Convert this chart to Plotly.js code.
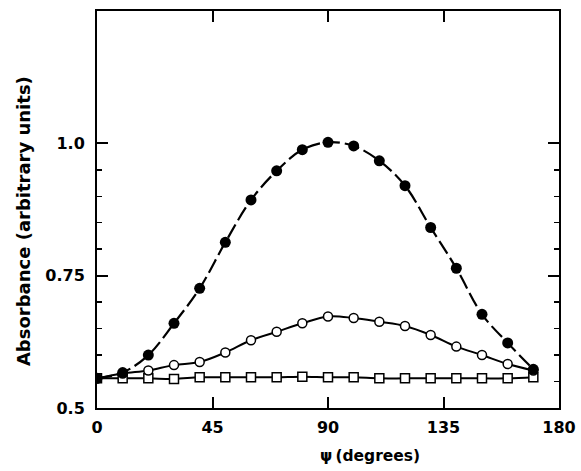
<!DOCTYPE html>
<html>
<head>
<meta charset="utf-8">
<script src="https://cdn.plot.ly/plotly-3.0.1.min.js"></script>
<style>html,body{margin:0;padding:0;background:#fff;}#chart{width:581px;height:471px;}</style>
</head>
<body>
<div id="chart"></div>
<script>
var psi = [0, 10, 20, 30, 40, 50, 60, 70, 80, 90, 100, 110, 120, 130, 140, 150, 160, 170];
var filledCircles = [0.556, 0.567, 0.600, 0.660, 0.726, 0.813, 0.893, 0.948, 0.988, 1.002, 0.995, 0.967, 0.920, 0.841, 0.764, 0.677, 0.623, 0.573];
var openCircles = [0.556, 0.565, 0.571, 0.581, 0.587, 0.605, 0.628, 0.644, 0.660, 0.673, 0.670, 0.663, 0.655, 0.638, 0.616, 0.600, 0.583, 0.571];
var squares = [0.556, 0.556, 0.556, 0.555, 0.558, 0.558, 0.558, 0.558, 0.559, 0.558, 0.558, 0.556, 0.556, 0.556, 0.556, 0.556, 0.556, 0.558];
var xTickVals = [0, 45, 90, 135, 180];
var xTickText = ['0', '45', '90', '135', '180'];
var yTickVals = [0.5, 0.75, 1.0];
var yTickText = ['0.5', '0.75', '1.0'];
var yMinorVals = [0.55, 0.6, 0.65, 0.7, 0.8, 0.85, 0.9, 0.95];

var traces = [
  {x: psi, y: squares, type: 'scatter', mode: 'lines+markers',
   line: {color: '#000', width: 2, shape: 'spline'},
   marker: {symbol: 'square', size: 9, color: '#fff', line: {color: '#000', width: 1.5}}},
  {x: psi, y: openCircles, type: 'scatter', mode: 'lines+markers',
   line: {color: '#000', width: 2, shape: 'spline'},
   marker: {symbol: 'circle', size: 9, color: '#fff', line: {color: '#000', width: 1.5}}},
  {x: psi, y: filledCircles, type: 'scatter', mode: 'lines+markers',
   line: {color: '#000', width: 2.2, shape: 'spline', dash: '15px,5px'},
   marker: {symbol: 'circle', size: 11, color: '#000'}}
];

var layout = {
  width: 581, height: 471,
  margin: {l: 97, r: 22, t: 11, b: 63},
  paper_bgcolor: '#fff', plot_bgcolor: '#fff',
  showlegend: false,
  font: {family: 'DejaVu Sans', color: '#000'},
  xaxis: {
    range: [0, 180], showgrid: false, zeroline: false,
    showline: true, linecolor: '#000', linewidth: 2, mirror: 'ticks',
    ticks: 'inside', ticklen: 11, tickwidth: 2, tickcolor: '#000',
    tickmode: 'array', tickvals: xTickVals, ticktext: xTickText,
    tickfont: {family: 'DejaVu Sans', size: 16, weight: 'bold'},
    ticklabelstandoff: 4
  },
  yaxis: {
    range: [0.5, 1.25], showgrid: false, zeroline: false,
    showline: true, linecolor: '#000', linewidth: 2, mirror: 'ticks',
    ticks: 'inside', ticklen: 11, tickwidth: 2, tickcolor: '#000',
    tickmode: 'array', tickvals: yTickVals, ticktext: yTickText,
    tickfont: {family: 'DejaVu Sans', size: 16, weight: 'bold'},
    ticklabelstandoff: 7,
    minor: {tickmode: 'array', tickvals: yMinorVals, ticks: 'inside', ticklen: 5, tickwidth: 1.5, tickcolor: '#000', showgrid: false}
  },
  annotations: [
    {text: 'ψ\u2009(degrees)', xref: 'paper', yref: 'paper', x: 0.59, y: -0.122, xanchor: 'center', yanchor: 'middle',
     showarrow: false, font: {family: 'DejaVu Sans', size: 15.5, weight: 'bold', color: '#000'}},
    {text: 'Absorbance (arbitrary units)', xref: 'paper', yref: 'paper', x: -0.160, y: 0.471, xanchor: 'center', yanchor: 'middle',
     textangle: -90, showarrow: false, font: {family: 'DejaVu Sans', size: 18, weight: 'bold', color: '#000'}}
  ]
};

Plotly.newPlot('chart', traces, layout, {displayModeBar: false, staticPlot: true});
</script>
</body>
</html>
